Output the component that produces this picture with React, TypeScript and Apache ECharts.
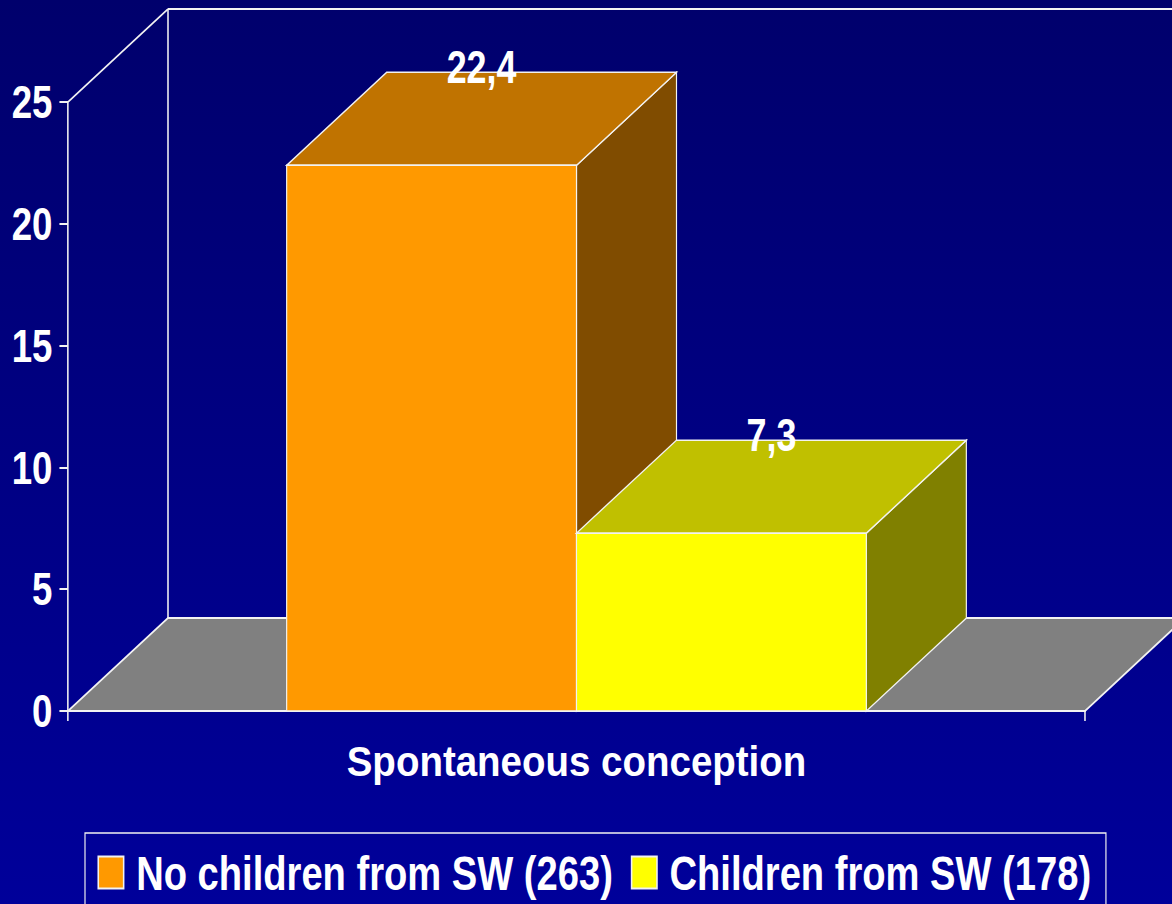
import React, { useEffect, useRef } from "react";
import * as echarts from "echarts";

const categories = ["Spontaneous conception"];
const seriesNames = ["No children from SW (263)", "Children from SW (178)"];
const noChildrenValues = [22.4];
const childrenValues = [7.3];
const yTicks = { min: 0, max: 25, interval: 5 };

// The original slide is squeezed horizontally; the whole chart is drawn
// wider and compressed with a CSS transform to reproduce that look.
const S = 0.78;
const W = 1172 / S;
const H = 904;
const FONT = "'Liberation Sans', Arial, sans-serif";
const DX = 100 / S;
const DY = -93;
const BAR_FRAC = 0.285;
const EDGE = "#f2f2f2";

const palettes = [
  { front: "#FF9900", top: "#C07300", side: "#804C00" },
  { front: "#FFFF00", top: "#C0C000", side: "#808000" },
];

function fmt(v: number) {
  return String(v).replace(".", ",");
}

function floorRender(params: any, api: any) {
  const c0 = api.coord([0, 0]);
  const bw = api.size([1, 0])[0];
  const cx = c0[0];
  const y0 = c0[1];
  const xl = cx - bw / 2;
  const xr = cx + bw / 2;
  const yTop = api.coord([0, yTicks.max])[1];
  const line = (x1: number, y1: number, x2: number, y2: number) => ({
    type: "line",
    shape: { x1, y1, x2, y2 },
    style: { stroke: EDGE, lineWidth: 2 },
  });
  return {
    type: "group",
    children: [
      {
        type: "polygon",
        shape: {
          points: [
            [xl, y0],
            [xr, y0],
            [xr + DX, y0 + DY],
            [xl + DX, y0 + DY],
          ],
        },
        style: { fill: "#808080", stroke: EDGE, lineWidth: 2 },
      },
      line(xl + DX, y0 + DY, xl + DX, yTop + DY),
      line(xl, yTop, xl + DX, yTop + DY),
      line(xl + DX, yTop + DY, xr + DX + 60, yTop + DY),
      {
        type: "text",
        x: cx,
        y: y0 + 51,
        scaleX: 1.175,
        style: {
          text: categories[api.value(0)],
          fill: "#ffffff",
          font: `bold 42px ${FONT}`,
          align: "center",
          verticalAlign: "middle",
        },
      },
    ],
  };
}

function makeBarRender(k: number) {
  const pal = palettes[k];
  return function (params: any, api: any) {
    const xi = api.value(0);
    const val = api.value(1);
    const c0 = api.coord([xi, 0]);
    const yv = api.coord([xi, val])[1];
    const y0 = c0[1];
    const w = api.size([1, 0])[0] * BAR_FRAC;
    const x1 = c0[0] + (k - 1) * w;
    const x2 = x1 + w;
    const st = (fill: string) => ({ fill, stroke: EDGE, lineWidth: 1.5 });
    return {
      type: "group",
      children: [
        {
          type: "polygon",
          shape: {
            points: [
              [x2, yv],
              [x2 + DX, yv + DY],
              [x2 + DX, y0 + DY],
              [x2, y0],
            ],
          },
          style: st(pal.side),
        },
        {
          type: "polygon",
          shape: {
            points: [
              [x1, yv],
              [x2, yv],
              [x2 + DX, yv + DY],
              [x1 + DX, yv + DY],
            ],
          },
          style: st(pal.top),
        },
        {
          type: "rect",
          shape: { x: x1, y: yv, width: w, height: y0 - yv },
          style: st(pal.front),
        },
        {
          type: "text",
          x: (x1 + x2 + DX) / 2,
          y: yv + DY - 5,
          style: {
            text: fmt(val),
            fill: "#ffffff",
            font: `bold 46px ${FONT}`,
            align: "center",
            verticalAlign: "middle",
          },
        },
      ],
    };
  };
}

export default function App() {
  const ref = useRef<HTMLDivElement>(null);
  useEffect(() => {
    if (!ref.current) return;
    const chart = echarts.init(ref.current, undefined, { renderer: "svg" });
    const labelStyle = {
      color: "#ffffff",
      fontWeight: "bold" as const,
      fontFamily: FONT,
    };
    chart.setOption({
      animation: false,
      backgroundColor: {
        type: "linear",
        x: 0,
        y: 0,
        x2: 0,
        y2: 1,
        colorStops: [
          { offset: 0, color: "#00006C" },
          { offset: 1, color: "#00009A" },
        ],
      },
      grid: {
        left: 68 / S,
        top: 102,
        width: 1017 / S,
        height: 609,
        containLabel: false,
        outerBoundsMode: "none",
      },
      xAxis: {
        type: "category",
        data: categories,
        axisLine: { lineStyle: { color: EDGE, width: 2 } },
        axisTick: { show: true, length: 10, lineStyle: { color: EDGE, width: 2 } },
        axisLabel: { show: false },
        splitLine: { show: false },
      },
      yAxis: {
        type: "value",
        min: yTicks.min,
        max: yTicks.max,
        interval: yTicks.interval,
        axisLine: { show: true, lineStyle: { color: EDGE, width: 2 } },
        axisTick: { show: true, length: 11, lineStyle: { color: EDGE, width: 2 } },
        axisLabel: { ...labelStyle, fontSize: 47, margin: 20 },
        splitLine: { show: false },
      },
      legend: {
        data: seriesNames,
        left: 85 / S,
        top: 833,
        orient: "horizontal",
        borderColor: EDGE,
        borderWidth: 1.5,
        padding: [15, 19, 40, 16],
        itemWidth: 25.4 / S,
        itemHeight: 32,
        itemGap: 23,
        icon: "rect",
        textStyle: { ...labelStyle, fontSize: 48.9, padding: [0, 0, 0, 11] },
      },
      series: [
        {
          type: "custom",
          name: "floor",
          renderItem: floorRender,
          data: [[0]],
          silent: true,
          clip: false,
        },
        {
          type: "custom",
          name: seriesNames[0],
          renderItem: makeBarRender(0),
          data: noChildrenValues.map((v, i) => [i, v]),
          itemStyle: { color: palettes[0].front, borderColor: EDGE, borderWidth: 1.5 },
          clip: false,
          encode: { x: 0, y: 1 },
        },
        {
          type: "custom",
          name: seriesNames[1],
          renderItem: makeBarRender(1),
          data: childrenValues.map((v, i) => [i, v]),
          itemStyle: { color: palettes[1].front, borderColor: EDGE, borderWidth: 1.5 },
          clip: false,
          encode: { x: 0, y: 1 },
        },
      ],
    });
    return () => chart.dispose();
  }, []);
  return (
    <div style={{ position: "fixed", left: 0, top: 0, width: 1172, height: H, overflow: "hidden" }}>
      <div
        ref={ref}
        style={{
          width: W,
          height: H,
          transform: `scaleX(${S})`,
          transformOrigin: "0 0",
        }}
      />
    </div>
  );
}
